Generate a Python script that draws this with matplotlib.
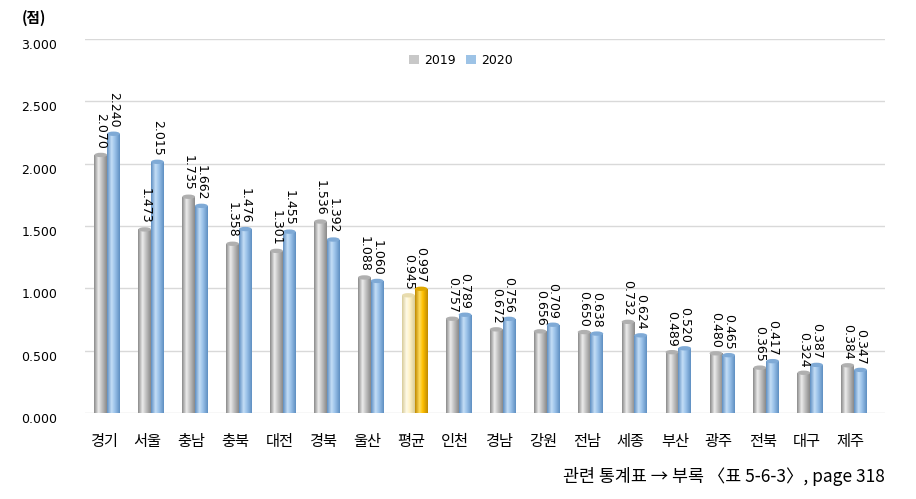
import numpy as np
import matplotlib
matplotlib.use("Agg")
import matplotlib.pyplot as plt
from matplotlib.colors import LinearSegmentedColormap
from matplotlib.patches import Ellipse
import matplotlib.transforms as mtransforms

plt.rcParams['font.family'] = ['Noto Sans CJK KR', 'DejaVu Sans']

categories = ['경기', '서울', '충남', '충북', '대전', '경북', '울산', '평균', '인천',
              '경남', '강원', '전남', '세종', '부산', '광주', '전북', '대구', '제주']
values_2019 = [2.070, 1.473, 1.735, 1.358, 1.301, 1.536, 1.088, 0.945, 0.757,
               0.672, 0.656, 0.650, 0.732, 0.489, 0.480, 0.365, 0.324, 0.384]
values_2020 = [2.240, 2.015, 1.662, 1.476, 1.455, 1.392, 1.060, 0.997, 0.789,
               0.756, 0.709, 0.638, 0.624, 0.520, 0.465, 0.417, 0.387, 0.347]
series_names = ['2019', '2020']
yticks = [0.0, 0.5, 1.0, 1.5, 2.0, 2.5, 3.0]
highlight = '평균'

fig = plt.figure(figsize=(9.16, 4.99), dpi=100)
ax = fig.add_axes([0.093, 0.172, 0.873, 0.750])

x = np.arange(len(categories))
w = 0.29

def cyl_cmap(edge, mid, light):
    return LinearSegmentedColormap.from_list('c', [(0, edge), (0.35, light), (0.6, mid), (1, edge)])

cm_gray = cyl_cmap('#8a8a8a', '#c4c4c4', '#ececec')
cm_blue = cyl_cmap('#5f8fc2', '#9cc3ea', '#c4def6')
cm_cream = cyl_cmap('#d8cc9a', '#fff2c4', '#fffbe8')
cm_gold = cyl_cmap('#c08a00', '#ffc000', '#ffdc60')
grad = np.linspace(0, 1, 64).reshape(1, -1)

bars19 = ax.bar(x - w / 2, values_2019, w, color='#c8c8c8', edgecolor='none', zorder=3, label=series_names[0])
bars20 = ax.bar(x + w / 2, values_2020, w, color='#9dc3e6', edgecolor='none', zorder=3, label=series_names[1])

def shade(bars, cm_default, cm_hi, top_default, top_hi):
    for cat, b in zip(categories, bars):
        cm = cm_hi if cat == highlight else cm_default
        x0, y0 = b.get_x(), b.get_y()
        bw, bh = b.get_width(), b.get_height()
        im = ax.imshow(grad, cmap=cm, extent=[x0, x0 + bw, y0, y0 + bh],
                       aspect='auto', zorder=3.5, origin='lower')
        im.set_clip_path(b)
        tc = top_hi if cat == highlight else top_default
        ax.add_patch(Ellipse((x0 + bw / 2, y0 + bh), bw, 0.035,
                             facecolor=tc, edgecolor='none', zorder=4))

shade(bars19, cm_gray, cm_cream, '#b0b0b0', '#e8dcae')
shade(bars20, cm_blue, cm_gold, '#7faad6', '#e0a800')

# data labels
for xi, v in zip(x, values_2019):
    ax.text(xi - w / 2, v + 0.045, f'{v:.3f}', rotation=-90, ha='center', va='bottom',
            fontsize=9, family='DejaVu Sans', zorder=5)
for xi, v in zip(x, values_2020):
    ax.text(xi + w / 2, v + 0.045, f'{v:.3f}', rotation=-90, ha='center', va='bottom',
            fontsize=9, family='DejaVu Sans', zorder=5)

ax.set_ylim(0, 3.0)
ax.set_xlim(-0.5, 17.7)
ax.set_yticks(yticks)
ax.set_yticklabels([f'{t:.3f}' for t in yticks], fontsize=9, family='DejaVu Sans')
ax.set_xticks(x - 0.08)
ax.set_xticklabels(categories, fontsize=11)
ax.tick_params(axis='both', length=0)
ax.tick_params(axis='y', pad=20)
ax.tick_params(axis='x', pad=14)
for s in ax.spines.values():
    s.set_visible(False)
shift = mtransforms.ScaledTranslation(0, -5 / 100, fig.dpi_scale_trans)
for lab in ax.get_yticklabels():
    lab.set_transform(lab.get_transform() + shift)

for t in yticks:
    ax.axhline(t, color='#d9d9d9', lw=1.0, zorder=1)

leg = ax.legend(loc='upper center', bbox_to_anchor=(0.47, 0.99), ncol=2, frameon=False,
                handlelength=0.8, handleheight=0.8, columnspacing=0.8,
                handletextpad=0.4, prop={'family': 'DejaVu Sans', 'size': 9})

fig.text(0.024, 0.965, '(점)', fontsize=10.5, fontweight='bold', ha='left', va='center')
fig.text(0.966, 0.045, '관련 통계표 → 부록 〈표 5-6-3〉, page 318', fontsize=12.5,
         ha='right', va='center')

fig.savefig('out.png', dpi=100)
